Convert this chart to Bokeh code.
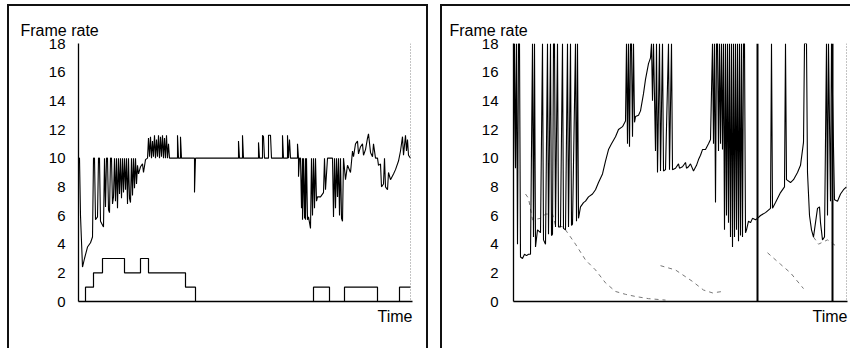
from bokeh.plotting import figure
from bokeh.models import Range1d, Span, FixedTicker, Title, Spacer
from bokeh.layouts import row, column
from bokeh.embed import file_html
from bokeh.resources import INLINE

# ---------------- data ----------------
y_ticks = [0, 2, 4, 6, 8, 10, 12, 14, 16, 18]

# left panel: frame rate (time units, frames/s)
left_t = [0, 1, 2, 4, 6, 9, 12, 14, 15, 16, 17, 19, 20, 21, 22, 25, 26, 27, 28, 29, 30, 31, 32, 33,
          34, 35, 36, 37, 38, 39, 40, 41, 42, 43, 44, 45, 46, 47, 48, 49, 50, 51, 52, 53, 54, 55, 56,
          57, 58, 59, 60, 62, 64, 65, 67, 69, 70, 71, 72, 73, 74, 75, 76, 77, 78, 79, 80, 81, 82, 83,
          84, 85, 86, 87, 88, 89, 90, 91, 99, 99, 100, 102, 102, 103, 116, 116, 117, 160, 160, 161,
          164, 164, 165, 180, 180, 181, 184, 184, 185, 186, 190, 190, 192, 193, 204, 204, 205, 209,
          209, 210, 211, 212, 219, 219, 220, 220, 221, 222, 223, 224, 224, 225, 226, 227, 227, 228,
          229, 230, 231, 232, 233, 234, 235, 236, 237, 238, 239, 242, 245, 246, 247, 249, 254, 255,
          256, 257, 258, 259, 260, 261, 262, 263, 264, 265, 267, 269, 272, 274, 275, 277, 279, 280,
          282, 284, 285, 287, 289, 290, 292, 294, 295, 297, 299, 300, 302, 303, 305, 306, 307, 309,
          310, 312, 315, 317, 320, 322, 324, 325, 327, 328, 329, 330, 332]
left_rate = [10.0, 10.0, 6.0, 2.4, 3.0, 3.8, 4.1, 4.5, 10, 10, 5.7, 5.9, 10, 10, 5.6, 5.2, 10, 6.6, 10,
             10, 6.4, 6.2, 10, 10, 6.8, 7.3, 10, 7.0, 10, 6.5, 10, 7.5, 10, 7.2, 10, 7.6, 10, 7.8, 10,
             6.8, 10, 7.2, 6.9, 10, 7.4, 10, 7.9, 10, 8.2, 9.5, 8.9, 9.4, 9.6, 9.0, 9.9, 10.0, 11.4,
             10.1, 11.5, 10.0, 11.2, 10.1, 11.6, 10.0, 11.3, 10.1, 11.6, 10, 11.5, 10.1, 11.6, 10, 11.4,
             10, 11.6, 10, 11.0, 10, 10, 11.6, 10, 10, 11.5, 10, 10, 7.6, 10, 10, 11.2, 10, 10, 11.6,
             10, 10, 11.1, 10, 10, 11.6, 11.5, 10, 10, 11.6, 11.6, 10, 10, 11.6, 10, 10, 11.6, 10,
             11.3, 10, 10, 11.0, 10, 8.7, 10, 10, 6.5, 10, 5.7, 10, 5.8, 10, 5.7, 10, 5.7, 5.9, 5.5,
             5.1, 10, 6.0, 10, 6.5, 10, 7.0, 7.3, 7.3, 7.6, 10, 7.8, 10, 10, 5.9, 10, 6.5, 10, 7.3,
             10, 6.0, 10, 5.8, 5.6, 10, 8.5, 9.5, 9.0, 10.5, 10.1, 11.0, 11.2, 10.3, 10.8, 11.0, 10.2,
             10.6, 11.4, 11.7, 10.4, 10.1, 11.0, 10.0, 10.0, 9.5, 9.6, 8.0, 8.2, 10, 8.0, 7.8, 9.0,
             8.5, 8.9, 9.2, 9.8, 10.5, 11.5, 10.2, 11.6, 10.5, 11.3, 10.2, 10.0]

# left panel: step series (count)
left_step_t = [0, 7, 15, 24, 46, 62, 70, 107, 117, 235, 251, 266, 299, 321, 332]
left_step_v = [0, 1, 2, 3, 2, 3, 2, 1, 0, 1, 0, 1, 0, 1, 1]

# right panel: frame rate
right_t = [0, 1, 2, 3, 4, 5, 6, 7, 9, 11, 13, 15, 17, 19, 20, 21, 22, 24, 27, 29, 30, 32, 34, 35,
           37, 38, 39, 40, 41, 42, 44, 45, 47, 49, 50, 52, 54, 55, 57, 58, 59, 62, 63, 64, 65, 67,
           70, 72, 75, 79, 82, 85, 89, 92, 95, 98, 102, 105, 109, 112, 113, 114, 115, 116, 117, 118,
           119, 120, 121, 122, 125, 127, 130, 132, 135, 137, 138, 139, 140, 142, 143, 144, 146, 147,
           149, 150, 152, 155, 156, 158, 159, 162, 165, 166, 169, 172, 173, 175, 177, 180, 183, 185,
           187, 189, 192, 195, 197, 199, 200, 201, 202, 203, 204, 205, 206, 207, 208, 209, 210, 211,
           212, 213, 214, 215, 216, 217, 218, 219, 220, 221, 222, 223, 224, 225, 226, 227, 228, 229,
           230, 231, 232, 233, 235, 237, 239, 242, 244, 247, 252, 257, 258, 259, 262, 267, 271, 272,
           273, 277, 280, 284, 287, 290, 291, 293, 294, 296, 298, 300, 302, 304, 306, 307, 309, 311,
           313, 314, 315, 317, 318, 321, 324, 327, 330, 333]
right_rate = [9.4, 18, 9.3, 18, 4.0, 18, 18, 3.1, 3.0, 3.3, 3.2, 3.3, 3.3, 18, 4.5, 18, 3.8, 5.0,
              4.8, 18, 4.3, 4.0, 18, 4.7, 18, 4.6, 4.7, 18, 18, 5.2, 18, 5.2, 5.2, 18, 5.1, 5.0, 18,
              5.2, 18, 5.3, 5.4, 18, 5.6, 18, 5.8, 6.6, 6.9, 7.0, 7.3, 7.5, 7.8, 8.3, 8.9, 9.8, 10.6,
              11.0, 11.5, 12.0, 12.2, 12.6, 18, 11.0, 18, 10.8, 18, 18, 11.5, 18, 12.5, 12.9, 13.0,
              13.3, 14.5, 15.5, 16.6, 17.0, 18, 14, 18, 10.5, 18, 9.0, 18, 9.1, 18, 9.1, 9.2, 18, 9.2,
              18, 9.2, 9.3, 9.6, 9.3, 9.4, 9.7, 9.3, 9.4, 9.6, 9.1, 9.5, 9.9, 10.2, 10.6, 10.6, 11.0,
              11.3, 18, 11.0, 18, 6.9, 18, 18, 10.5, 18, 11.0, 18, 10.6, 18, 5.0, 18, 6.0, 18, 5.5, 18,
              4.5, 18, 3.8, 18, 4.5, 18, 5.0, 18, 4.2, 18, 4.6, 18, 4.5, 18, 18, 4.8, 5.0, 5.6, 5.5,
              5.8, 5.7, 5.8, 6.0, 6.2, 6.5, 18, 6.5, 6.9, 7.6, 8.0, 18, 8.5, 8.3, 8.5, 9.0, 9.5, 11.1,
              18, 18, 9.0, 6.0, 5.0, 4.5, 5.5, 6.5, 6.6, 5.5, 4.3, 4.5, 18, 6.0, 18, 7.0, 18, 7.1, 7.0,
              7.5, 7.8, 8.0]

# right panel: second (decaying) series, NaN separates pieces
nan = float("nan")
right2_t = [12, 15, 19, 27, 32, 39, 42, 50, 54, 62, 72, 82, 92, 102, 112, 122, 135, 152, nan,
            147, 162, 179, 190, 199, 209, nan, 254, 267, 277, 290, nan, 300, 305, 314, 324]
right2_v = [7.5, 7.2, 5.7, 5.8, 6.1, 6.1, 5.3, 5.2, 4.8, 4.0, 2.9, 2.2, 1.3, 0.7, 0.5, 0.35, 0.2,
            0.1, nan, 2.5, 2.2, 1.4, 0.8, 0.6, 0.7, nan, 3.4, 2.6, 2.0, 0.9, nan, 4.5, 4.0, 4.3, 3.8]

# right panel: event markers
right_events = [244, 319]

left_end = 332
right_end = 333

FONT = "Liberation Sans"
PANEL_H = 342


def base_panel(width, border_left, border_right, label_standoff, title_offset):
    p = figure(width=width, height=PANEL_H, x_range=Range1d(0, 334), y_range=Range1d(0, 18),
               output_backend="svg", toolbar_location=None,
               min_border_left=border_left, min_border_right=border_right,
               min_border_top=37, min_border_bottom=47)
    p.xgrid.visible = False
    p.ygrid.visible = False
    p.outline_line_color = None
    p.background_fill_color = "white"
    p.border_fill_color = "white"
    p.xaxis.ticker = FixedTicker(ticks=[])
    p.xaxis.major_tick_out = 0
    p.xaxis.major_tick_in = 0
    p.xaxis.minor_tick_out = 0
    p.xaxis.minor_tick_in = 0
    p.xaxis.major_label_text_font_size = "0px"
    p.xaxis.axis_line_color = "black"
    p.xaxis.axis_line_width = 1.3
    p.yaxis.ticker = FixedTicker(ticks=y_ticks)
    p.yaxis.major_tick_out = 0
    p.yaxis.major_tick_in = 0
    p.yaxis.minor_tick_out = 0
    p.yaxis.minor_tick_in = 0
    p.yaxis.major_label_standoff = label_standoff
    p.yaxis.major_label_text_font = FONT
    p.yaxis.major_label_text_font_size = "15px"
    p.yaxis.major_label_text_color = "black"
    p.yaxis.axis_line_color = "black"
    p.yaxis.axis_line_width = 1.3
    p.title.text = "Frame rate"
    p.title.align = "left"
    p.title.offset = title_offset
    p.title.standoff = 10
    p.title.padding = (0, 0, 5, 0)
    p.title.text_font = FONT
    p.title.text_font_size = "16px"
    p.title.text_font_style = "normal"
    p.title.text_color = "black"
    p.add_layout(Title(text="Time", align="right", text_font=FONT, text_font_size="16px",
                       text_font_style="normal", text_color="black", standoff=8,
                       padding=(4, 0, 0, 0)), "below")
    return p


def bar(w, h, color="#111111"):
    return Spacer(width=w, height=h, styles={"background-color": color})


# ---------------- left panel ----------------
p1 = base_panel(417, 69, 14, 13, -58)
p1.add_layout(Span(location=left_end, dimension="height", line_color="#888888",
                   line_dash="1 2", line_width=1))
p1.step(left_step_t, left_step_v, mode="after", line_color="black", line_width=1.2)
p1.line(left_t, left_rate, line_color="black", line_width=1.1)

# ---------------- right panel ----------------
p2 = base_panel(408, 71, 3, 15, -64)
p2.add_layout(Span(location=right_end, dimension="height", line_color="#888888",
                   line_dash="1 2", line_width=1))
p2.line(right2_t, right2_v, line_color="#777777", line_width=1, line_dash="4 4")
p2.line(right_t, right_rate, line_color="black", line_width=1.1)
p2.segment(x0=right_events, y0=[0] * len(right_events), x1=right_events,
           y1=[18] * len(right_events), line_color="black", line_width=2)

left_box = column(bar(421, 2), row(bar(2, PANEL_H), p1, bar(2, PANEL_H), spacing=0), spacing=0)
right_box = column(bar(410, 2), row(bar(2, PANEL_H), p2, spacing=0), spacing=0)
panels = row(bar(7, 344, "white"), left_box, bar(12, 344, "white"), right_box, spacing=0)
layout = column(bar(842, 4, "white"), panels, spacing=0)

open("out.html", "w").write(file_html(layout, INLINE))
